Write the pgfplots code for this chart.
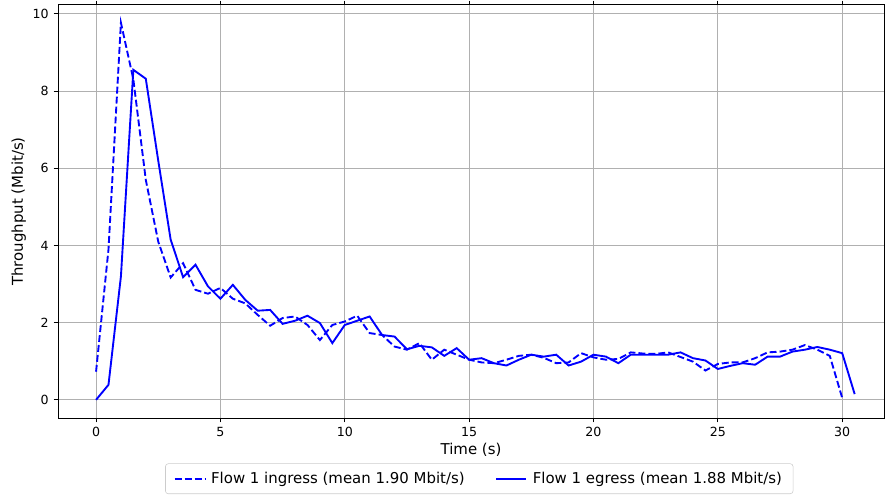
\documentclass[border=0pt]{standalone}
\usepackage{fontspec}
\setmainfont{DejaVu Sans}
\usepackage{pgfplots}
\pgfplotsset{compat=1.18}

% ingress (dashed) and egress (solid), throughput in Mbit/s every 0.5 s
\pgfplotstableread{
t v
0 0.73
0.5 3.9
1 9.77
1.5 8.3
2 5.7
2.5 4.1
3 3.17
3.5 3.54
4 2.85
4.5 2.75
5 2.9
5.5 2.62
6 2.5
6.5 2.2
7 1.92
7.5 2.12
8 2.16
8.5 1.94
9 1.55
9.5 1.94
10 2.03
10.5 2.18
11 1.73
11.5 1.68
12 1.38
12.5 1.3
13 1.47
13.5 1.04
14 1.3
14.5 1.17
15 1.04
15.5 0.97
16 0.95
16.5 1.04
17 1.14
17.5 1.17
18 1.09
18.5 0.95
19 0.97
19.5 1.21
20 1.1
20.5 1.04
21 1.06
21.5 1.23
22 1.2
22.5 1.19
23 1.23
23.5 1.11
24 0.99
24.5 0.76
25 0.93
25.5 0.97
26 0.97
26.5 1.08
27 1.23
27.5 1.25
28 1.3
28.5 1.42
29 1.3
29.5 1.14
30 0.05
}\ingress

\pgfplotstableread{
t v
0 0
0.5 0.39
1 3.2
1.5 8.55
2 8.32
2.5 6.2
3 4.15
3.5 3.18
4 3.5
4.5 2.94
5 2.62
5.5 2.98
6 2.59
6.5 2.31
7 2.33
7.5 1.97
8 2.05
8.5 2.18
9 1.99
9.5 1.47
10 1.94
10.5 2.05
11 2.16
11.5 1.68
12 1.64
12.5 1.31
13 1.4
13.5 1.36
14 1.14
14.5 1.34
15 1.04
15.5 1.08
16 0.95
16.5 0.89
17 1.04
17.5 1.17
18 1.12
18.5 1.17
19 0.89
19.5 0.99
20 1.17
20.5 1.12
21 0.95
21.5 1.17
22 1.17
22.5 1.17
23 1.17
23.5 1.23
24 1.08
24.5 1.02
25 0.8
25.5 0.88
26 0.95
26.5 0.91
27 1.12
27.5 1.12
28 1.25
28.5 1.3
29 1.37
29.5 1.3
30 1.21
30.5 0.15
}\egress

\begin{document}
\begin{tikzpicture}
\begin{axis}[
  scale only axis,
  width=8.26in, height=4.13in,
  xmin=-1.53, xmax=31.68,
  ymin=-0.47, ymax=10.23,
  xtick={0,5,...,30}, ytick={0,2,...,10},
  tick align=outside, major tick length=3.2pt,
  tick style={black, line width=0.72pt},
  axis line style={line width=0.72pt},
  grid=major,
  major grid style={color=black!31, line width=0.72pt},
  ticklabel style={font=\fontsize{9.1}{11}\selectfont},
  /pgf/number format/assume math mode=true,
  label style={font=\fontsize{10.8}{13}\selectfont},
  xlabel={Time (s)}, ylabel={Throughput (Mbit/s)},
  xlabel style={yshift=2pt},
  ylabel style={yshift=-2pt},
  legend columns=2,
  legend style={at={(0.51,-0.11)}, anchor=north, draw=black!20,
    rounded corners=2pt, font=\fontsize{10.8}{13}\selectfont,
    /tikz/every even column/.append style={column sep=0.28in},
    /tikz/every odd column/.append style={column sep=2pt},
    inner xsep=6pt, inner ysep=4pt},
  legend image code/.code={\draw[#1] (0cm,0cm) -- (0.76cm,0cm);},
]
\addplot[blue, line width=1.36pt, dash pattern=on 5pt off 2.2pt] table[x=t,y=v] {\ingress};
\addlegendentry{Flow 1 ingress (mean 1.90 Mbit/s)}
\addplot[blue, line width=1.36pt] table[x=t,y=v] {\egress};
\addlegendentry{Flow 1 egress (mean 1.88 Mbit/s)}
\end{axis}
\pgfresetboundingbox
\path[use as bounding box] ([shift={(-0.58in,-0.80in)}]current axis.south west) rectangle ([shift={(0.01in,0.05in)}]current axis.north east);
\end{tikzpicture}
\end{document}
